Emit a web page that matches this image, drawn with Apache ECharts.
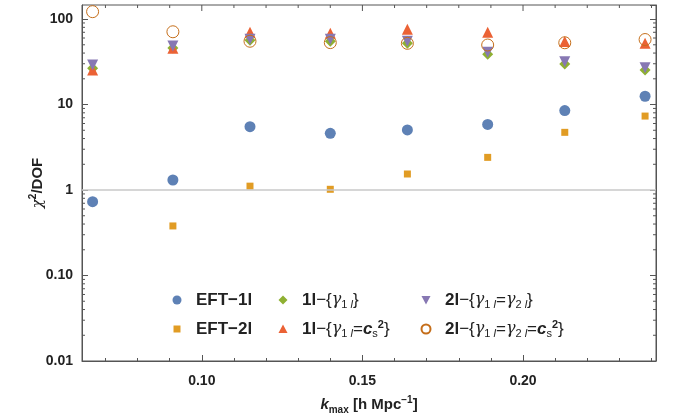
<!DOCTYPE html>
<html>
<head>
<meta charset="utf-8">
<script src="https://cdn.jsdelivr.net/npm/echarts@6/dist/echarts.min.js"></script>
<style>
  html, body { margin: 0; padding: 0; background: #fff; }
  #main { width: 673px; height: 419px; }
</style>
</head>
<body>
<div id="main"></div>
<script>
// k_max values and chi^2/DOF
var kmax = [0.066, 0.091, 0.115, 0.140, 0.164, 0.189, 0.213, 0.238];
var eft1l = [0.73, 1.31, 5.5, 4.6, 5.05, 5.85, 8.5, 12.5];
var eft2l = [null, 0.38, 1.11, 1.02, 1.54, 2.41, 4.73, 7.33];
var g1l = [26.5, 46, 56.6, 55, 52, 38.7, 29.7, 25.4];
var g1lcs = [25.4, 45.4, 69.9, 68, 76, 70, 54.5, 52];
var g2l = [29, 48.3, 58.2, 58, 55, 40.8, 31.6, 27];
var g2lcs = [122, 71, 55, 53, 52, 49.7, 52.8, 57.6];

var xMin = 0.0627, xMax = 0.2414;
var yMin = 0.01, yMax = 146;
// log minor ticks (2..9 in every decade)
var yMinorTicks = [0.02,0.03,0.04,0.05,0.06,0.07,0.08,0.09,
  0.2,0.3,0.4,0.5,0.6,0.7,0.8,0.9, 2,3,4,5,6,7,8,9,
  20,30,40,50,60,70,80,90];
// ticks along the top frame
var xMajorTicks = [0.10, 0.15, 0.20];
var xMinorTicks = [0.07, 0.08, 0.09, 0.11, 0.12, 0.13, 0.14, 0.16, 0.17, 0.18, 0.19, 0.21, 0.22, 0.23, 0.24];

var names = ['EFT−1l', 'EFT−2l', '1l−{γ1l}', '1l−{γ1l=cs2}', '2l−{γ1l=γ2l}', '2l−{γ1l=γ2l=cs2}'];
var legendText = {
  'EFT−1l': '{b|EFT−1l}',
  'EFT−2l': '{b|EFT−2l}',
  '1l−{γ1l}': '{b|1l}{n|−{}{g|γ}{s|1 }{si|l}}',
  '1l−{γ1l=cs2}': '{b|1l}{n|−{}{g|γ}{s|1 }{si|l}{n|=}{c|c}{s|s}{p|2}}',
  '2l−{γ1l=γ2l}': '{b|2l}{n|−{}{g|γ}{s|1 }{si|l}{n|=}{g|γ}{s|2 }{si|l}}',
  '2l−{γ1l=γ2l=cs2}': '{b|2l}{n|−{}{g|γ}{s|1 }{si|l}{n|=}{g|γ}{s|2 }{si|l}{n|=}{c|c}{s|s}{p|2}}'
};
// legend icons (extra moveTo points keep the small shapes inside a 10x10 box)
var icons = [
  'path://M0,0M10,10M0.5,5A4.5,4.5,0,1,1,9.5,5A4.5,4.5,0,1,1,0.5,5Z',
  'path://M0,0M10,10M1.5,1.5L8.5,1.5L8.5,8.5L1.5,8.5Z',
  'path://M0,0M10,10M5,0.5L9.5,5L5,9.5L0.5,5Z',
  'path://M0,0M10,10M5,0.5L9.5,9L0.5,9Z',
  'path://M0,0M10,10M0.5,1L9.5,1L5,9.5Z',
  'path://M0,0M10,10M0.5,5A4.5,4.5,0,1,1,9.5,5A4.5,4.5,0,1,1,0.5,5Z'
];

function pairs(arr) {
  var out = [];
  for (var i = 0; i < kmax.length; i++) {
    if (arr[i] != null) out.push([kmax[i], arr[i]]);
  }
  return out;
}

var font = 'Liberation Sans, Arial, sans-serif';
var rich = {
  b: { fontFamily: font, fontWeight: 'bold', fontSize: 17, color: '#222', lineHeight: 20 },
  n: { fontFamily: font, fontSize: 17, color: '#222', lineHeight: 20 },
  g: { fontFamily: 'DejaVu Serif', fontStyle: 'italic', fontSize: 16, color: '#222', lineHeight: 20 },
  c: { fontFamily: font, fontWeight: 'bold', fontStyle: 'italic', fontSize: 17, color: '#222', lineHeight: 20 },
  s: { fontFamily: font, fontSize: 11, color: '#222', verticalAlign: 'bottom', lineHeight: 14 },
  si: { fontFamily: font, fontStyle: 'italic', fontSize: 11, color: '#222', verticalAlign: 'bottom', lineHeight: 14 },
  p: { fontFamily: font, fontWeight: 'bold', fontSize: 11, color: '#222', verticalAlign: 'top', lineHeight: 13 }
};

function legendBox(left, idx) {
  return {
    orient: 'vertical', left: left, top: 290, padding: 0,
    itemWidth: 10, itemHeight: 10, itemGap: 9,
    data: idx.map(function (i) { return { name: names[i], icon: icons[i] }; }),
    formatter: function (n) { return legendText[n]; },
    textStyle: { fontFamily: font, fontSize: 17, color: '#222', lineHeight: 20, rich: rich, padding: [0, 0, 0, 9] }
  };
}

var axisColor = '#555';
var chart = echarts.init(document.getElementById('main'));
chart.setOption({
  animation: false,
  grid: {
    left: 82, right: 17, top: 5, bottom: 58, outerBoundsMode: 'none',
    show: true, borderColor: axisColor, borderWidth: 1
  },
  legend: [
    legendBox(172, [0, 1]),
    legendBox(278, [2, 3]),
    legendBox(420, [4, 5])
  ],
  xAxis: [{
    type: 'value', position: 'bottom', min: xMin, max: xMax, splitNumber: 3,
    axisLine: { onZero: false, lineStyle: { color: axisColor, width: 1 } },
    axisTick: { inside: true, length: 6, lineStyle: { color: axisColor } },
    minorTick: { show: true, splitNumber: 5, length: 3, lineStyle: { color: axisColor } },
    splitLine: { show: false },
    axisLabel: {
      showMinLabel: false, showMaxLabel: false, margin: 13,
      fontFamily: font, fontWeight: 'bold', fontSize: 14, color: '#222',
      formatter: function (v) { return v.toFixed(2); }
    },
    name: '{k|k}{s|max}{n| [h Mpc}{p|−1}{n|]}',
    nameLocation: 'middle', nameGap: 34, nameMoveOverlap: false,
    nameTextStyle: {
      rich: {
        k: { fontFamily: font, fontWeight: 'bold', fontStyle: 'italic', fontSize: 15, color: '#222', lineHeight: 20 },
        n: { fontFamily: font, fontWeight: 'bold', fontSize: 15, color: '#222', lineHeight: 20 },
        s: { fontFamily: font, fontWeight: 'bold', fontSize: 10, color: '#222', verticalAlign: 'bottom', lineHeight: 13 },
        p: { fontFamily: font, fontWeight: 'bold', fontSize: 10, color: '#222', verticalAlign: 'top', lineHeight: 12 }
      }
    }
  }],
  yAxis: [{
    type: 'log', logBase: 10, min: yMin, max: yMax,
    axisLine: { show: true, onZero: false, lineStyle: { color: axisColor, width: 1 } },
    axisTick: { inside: true, length: 6, lineStyle: { color: axisColor } },
    splitLine: { show: false },
    axisLabel: {
      showMaxLabel: false, margin: 9,
      fontFamily: font, fontWeight: 'bold', fontSize: 14, color: '#222',
      formatter: function (v) { return v < 1 ? v.toFixed(2) : String(Math.round(v)); }
    },
    name: '{g|χ}{p|2}{n|/DOF}',
    nameLocation: 'middle', nameGap: 34, nameRotate: 90, nameMoveOverlap: false,
    nameTextStyle: {
      rich: {
        g: { fontFamily: 'DejaVu Serif', fontStyle: 'italic', fontSize: 15, color: '#222', lineHeight: 20 },
        n: { fontFamily: font, fontWeight: 'bold', fontSize: 15, color: '#222', lineHeight: 20 },
        p: { fontFamily: font, fontWeight: 'bold', fontSize: 10, color: '#222', verticalAlign: 'top', lineHeight: 12 }
      }
    }
  }, {
    type: 'log', logBase: 10, min: yMin, max: yMax, position: 'right',
    axisLine: { show: true, onZero: false, lineStyle: { color: axisColor, width: 1 } },
    axisTick: { inside: true, length: 6, lineStyle: { color: axisColor } },
    splitLine: { show: false },
    axisLabel: { show: false }
  }],
  series: [
    {
      name: names[0], type: 'scatter', symbol: 'circle', symbolSize: 11,
      itemStyle: { color: '#5E81B5', opacity: 1 },
      data: pairs(eft1l),
      markLine: {
        silent: true, symbol: 'none', label: { show: false },
        lineStyle: { color: '#c8c8c8', width: 1.5, type: 'solid' },
        data: [{ yAxis: 1 }]
      }
    },
    {
      name: names[1], type: 'scatter', symbol: 'rect', symbolSize: 7,
      itemStyle: { color: '#E19C24', opacity: 1 },
      data: pairs(eft2l)
    },
    {
      name: names[2], type: 'scatter', symbol: 'diamond', symbolSize: [11, 11],
      itemStyle: { color: '#8FB032', opacity: 1 },
      data: pairs(g1l)
    },
    {
      name: names[3], type: 'scatter', symbol: 'triangle', symbolSize: 11,
      itemStyle: { color: '#EB6235', opacity: 1 },
      data: pairs(g1lcs)
    },
    {
      name: names[4], type: 'scatter', symbol: 'triangle', symbolRotate: 180, symbolSize: 11,
      itemStyle: { color: '#8778B3', opacity: 1 },
      data: pairs(g2l)
    },
    {
      name: names[5], type: 'scatter', symbol: 'circle', symbolSize: 12,
      itemStyle: { color: 'rgba(255,255,255,0)', borderColor: '#C56E1A', borderWidth: 1, opacity: 1 },
      data: pairs(g2lcs)
    },
    {
      // minor ticks of the log axis, on the left and right frame
      type: 'custom', silent: true, clip: false,
      data: yMinorTicks.map(function (v) { return [xMin, v]; }),
      renderItem: function (params, api) {
        var y = api.coord([xMin, api.value(1)])[1];
        var cs = params.coordSys;
        var st = { stroke: axisColor, lineWidth: 1 };
        return {
          type: 'group',
          children: [
            { type: 'line', shape: { x1: cs.x, y1: y, x2: cs.x + 3, y2: y }, style: st },
            { type: 'line', shape: { x1: cs.x + cs.width - 3, y1: y, x2: cs.x + cs.width, y2: y }, style: st }
          ]
        };
      }
    },
    {
      // ticks along the top frame (value, tick length)
      type: 'custom', silent: true, clip: false,
      data: xMajorTicks.map(function (v) { return [v, yMax, 6]; })
        .concat(xMinorTicks.map(function (v) { return [v, yMax, 3]; })),
      renderItem: function (params, api) {
        var x = api.coord([api.value(0), yMax])[0];
        var cs = params.coordSys;
        return {
          type: 'line',
          shape: { x1: x, y1: cs.y, x2: x, y2: cs.y + api.value(2) },
          style: { stroke: axisColor, lineWidth: 1 }
        };
      }
    }
  ]
});
</script>
</body>
</html>
